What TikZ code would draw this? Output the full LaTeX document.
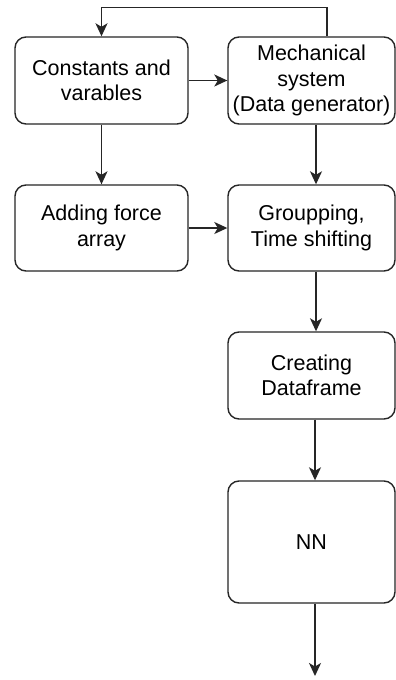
\documentclass[tikz,border=0pt]{standalone}
\usepackage{fontspec}
\setmainfont{Liberation Sans}
\usetikzlibrary{arrows.meta}
\begin{document}
\begin{tikzpicture}[x=1pt,y=1pt,
  stepbox/.style={draw=black!85, line width=1.4pt, rounded corners=11pt,
    fill=white, align=center, inner sep=0pt,
    font=\fontsize{21.5}{25.5}\selectfont},
  arr/.style={draw=black!85, line width=1.4pt,
    arrows={-Stealth[length=13pt,width=12pt,inset=3.5pt]}}]
  \useasboundingbox[fill=white] (0,0) rectangle (396,-680);

  % process boxes
  \node[stepbox, minimum width=173pt, minimum height=87pt] (A) at (101.5,-80.5) {Constants and\\varables};
  \node[stepbox, minimum width=167pt, minimum height=87pt] (B) at (311.5,-80.5) {Mechanical\\system\\(Data generator)};
  \node[stepbox, minimum width=173pt, minimum height=86pt] (C) at (101.5,-228) {Adding force\\array};
  \node[stepbox, minimum width=167pt, minimum height=86pt] (D) at (311.5,-228) {Groupping,\\Time shifting};
  \node[stepbox, minimum width=167pt, minimum height=87pt] (E) at (311.5,-375.5) {Creating\\Dataframe};
  \node[stepbox, minimum width=167pt, minimum height=122pt] (F) at (311.5,-542) {NN};
  \coordinate (out) at (315,-676);

  % connectors
  \draw[arr] ([xshift=15.5pt]B.north) -- ++(0,29) -| (A.north);
  \draw[arr] (A.east) -- (B.west);
  \draw[arr] (A.south) -- (C.north);
  \draw[arr] ([xshift=4.5pt]B.south) -- ([xshift=4.5pt]D.north);
  \draw[arr] (C.east) -- (D.west);
  \draw[arr] ([xshift=4.5pt]D.south) -- ([xshift=4.5pt]E.north);
  \draw[arr] ([xshift=3.5pt]E.south) -- ([xshift=3.5pt]F.north);
  \draw[arr] ([xshift=3.5pt]F.south) -- (out);
\end{tikzpicture}
\end{document}
